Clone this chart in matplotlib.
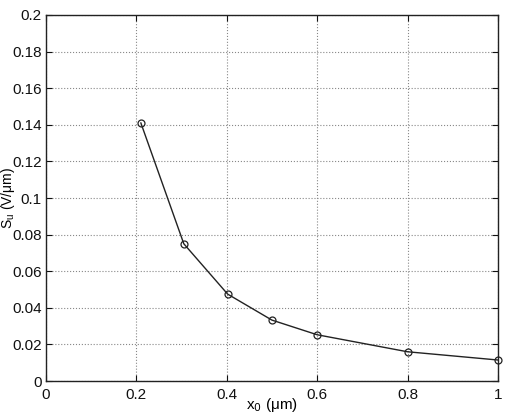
import matplotlib
matplotlib.use("Agg")
import matplotlib.pyplot as plt

plt.rcParams['font.family'] = ['Liberation Sans', 'DejaVu Sans']

# data
x0 = [0.21, 0.305, 0.402, 0.5, 0.6, 0.8, 1.0]
su = [0.141, 0.075, 0.0475, 0.0333, 0.0253, 0.016, 0.0115]
xticks = [0, 0.2, 0.4, 0.6, 0.8, 1]
yticks = [0, 0.02, 0.04, 0.06, 0.08, 0.1, 0.12, 0.14, 0.16, 0.18, 0.2]

fig = plt.figure(figsize=(5.05, 4.16), dpi=100)
ax = fig.add_axes([0.091, 0.084, 0.895, 0.880])
ax.plot(x0, su, color='#222222', linewidth=1.0, marker='o', markersize=5,
        markerfacecolor='none', markeredgecolor='#222222', markeredgewidth=0.9,
        clip_on=False, zorder=3)

ax.set_xlim(0, 1)
ax.set_ylim(0, 0.2)
ax.set_xticks(xticks)
ax.set_xticklabels([f"{t:g}" for t in xticks])
ax.set_yticks(yticks)
ax.set_yticklabels([f"{t:g}" for t in yticks])
ax.tick_params(direction='in', length=4, labelsize=11, colors='#111111',
               top=True, right=True)
ax.tick_params(axis='x', pad=5)
ax.tick_params(axis='y', pad=3)
ax.grid(True, linestyle=':', color='#888888', linewidth=0.8)
for s in ax.spines.values():
    s.set_color('#222222')
    s.set_linewidth(1.0)

ax.set_xlabel(r"x$_0$ ($\mathregular{\mu}$m)", fontsize=11)
ax.set_ylabel(r"S$_\mathregular{u}$ (V/$\mathregular{\mu}$m)", fontsize=10)
ax.xaxis.set_label_coords(0.501, -0.042)
ax.yaxis.set_label_coords(-0.063, 0.5)

fig.savefig("out.png", dpi=100)
